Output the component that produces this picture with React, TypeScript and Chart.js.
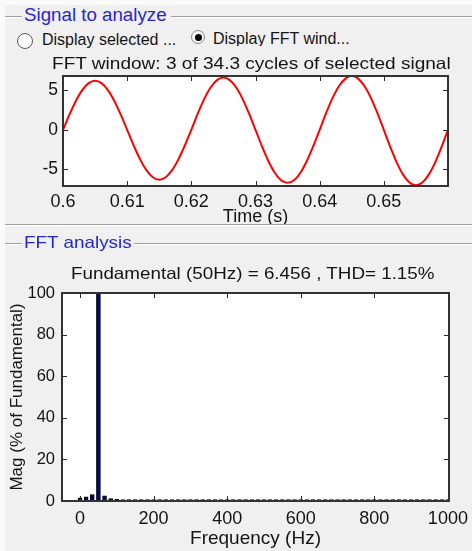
import React, { useEffect, useRef } from "react";
import { Chart, registerables } from "chart.js";

Chart.register(...registerables);

// ---------- data ----------
const sampleTimes = [
  0.600, 0.601, 0.602, 0.603, 0.604, 0.605, 0.606, 0.607, 0.608, 0.609,
  0.610, 0.611, 0.612, 0.613, 0.614, 0.615, 0.616, 0.617, 0.618, 0.619,
  0.620, 0.621, 0.622, 0.623, 0.624, 0.625, 0.626, 0.627, 0.628, 0.629,
  0.630, 0.631, 0.632, 0.633, 0.634, 0.635, 0.636, 0.637, 0.638, 0.639,
  0.640, 0.641, 0.642, 0.643, 0.644, 0.645, 0.646, 0.647, 0.648, 0.649,
  0.650, 0.651, 0.652, 0.653, 0.654, 0.655, 0.656, 0.657, 0.658, 0.659,
  0.660,
];
const signalValues = [
  0, 1.92, 3.65, 5.02, 5.9, 6.2, 5.9, 5.02, 3.65, 1.92,
  0, -1.95, -3.7, -5.1, -5.99, -6.3, -5.99, -5.1, -3.7, -1.95,
  0, 2.04, 3.88, 5.34, 6.28, 6.6, 6.28, 5.34, 3.88, 2.04,
  0, -2.07, -3.94, -5.42, -6.37, -6.7, -6.37, -5.42, -3.94, -2.07,
  0, 2.1, 4.0, 5.5, 6.47, 6.8, 6.47, 5.5, 4.0, 2.1,
  0, -2.16, -4.11, -5.66, -6.66, -7.0, -6.66, -5.66, -4.11, -2.16,
  0,
];
const timeTicks = [0.6, 0.61, 0.62, 0.63, 0.64, 0.65];
const timeTickLabels = ["0.6", "0.61", "0.62", "0.63", "0.64", "0.65"];
const signalTicks = [-5, 0, 5];
const signalTickLabels = ["-5", "0", "5"];

const frequencies = [
  0, 16.67, 33.33, 50, 66.67, 83.33, 100, 116.67, 133.33, 150,
  166.67, 183.33, 200, 216.67, 233.33, 250, 266.67, 283.33, 300, 316.67,
  333.33, 350, 366.67, 383.33, 400, 416.67, 433.33, 450, 466.67, 483.33,
  500, 516.67, 533.33, 550, 566.67, 583.33, 600, 616.67, 633.33, 650,
  666.67, 683.33, 700, 716.67, 733.33, 750, 766.67, 783.33, 800, 816.67,
  833.33, 850, 866.67, 883.33, 900, 916.67, 933.33, 950, 966.67, 983.33,
  1000,
];
const magnitudes = [
  1.5, 2.0, 3.1, 100, 2.5, 1.2, 0.8, 0.7, 0.7, 0.7,
  0.7, 0.7, 0.7, 0.7, 0.7, 0.7, 0.7, 0.7, 0.7, 0.7,
  0.7, 0.7, 0.7, 0.7, 0.7, 0.7, 0.7, 0.7, 0.7, 0.7,
  0.7, 0.7, 0.7, 0.7, 0.7, 0.7, 0.7, 0.7, 0.7, 0.7,
  0.7, 0.7, 0.7, 0.7, 0.7, 0.7, 0.7, 0.7, 0.7, 0.7,
  0.7, 0.7, 0.7, 0.7, 0.7, 0.7, 0.7, 0.7, 0.7, 0.7,
  0.7,
];
const freqTicks = [0, 200, 400, 600, 800, 1000];
const freqTickLabels = ["0", "200", "400", "600", "800", "1000"];
const magTicks = [0, 20, 40, 60, 80, 100];
const magTickLabels = ["0", "20", "40", "60", "80", "100"];

// ---------- styling ----------
const FONT = '"Liberation Sans", Arial, sans-serif';
const TXT = "#141414";

const boxPlugin = {
  id: "matlabBox",
  beforeDraw(chart: any) {
    const { ctx, chartArea: a } = chart;
    ctx.save();
    ctx.fillStyle = "#ffffff";
    ctx.fillRect(a.left, a.top, a.right - a.left, a.bottom - a.top);
    ctx.restore();
  },
  afterDatasetsDraw(chart: any) {
    const { ctx, chartArea: a, scales } = chart;
    const L = 5;
    ctx.save();
    ctx.strokeStyle = "#2a2a2a";
    ctx.lineWidth = 1;
    ctx.beginPath();
    for (const t of scales.x.ticks) {
      const px = Math.round(scales.x.getPixelForValue(t.value)) + 0.5;
      ctx.moveTo(px, a.bottom);
      ctx.lineTo(px, a.bottom - L);
      ctx.moveTo(px, a.top);
      ctx.lineTo(px, a.top + L);
    }
    for (const t of scales.y.ticks) {
      const py = Math.round(scales.y.getPixelForValue(t.value)) + 0.5;
      ctx.moveTo(a.left, py);
      ctx.lineTo(a.left + L, py);
      ctx.moveTo(a.right, py);
      ctx.lineTo(a.right - L, py);
    }
    ctx.stroke();
    ctx.lineWidth = 2;
    ctx.strokeStyle = "#333333";
    ctx.strokeRect(a.left, a.top, a.right - a.left, a.bottom - a.top);
    ctx.restore();
  },
};

const noPadX = (h: number) => (s: any) => {
  s.height = h;
  s.paddingLeft = 0;
  s.paddingRight = 0;
};
const noPadY = (w: number) => (s: any) => {
  s.width = w;
  s.paddingTop = 0;
  s.paddingBottom = 0;
};

function SignalChart() {
  const ref = useRef<HTMLCanvasElement | null>(null);
  useEffect(() => {
    if (!ref.current) return;
    const chart = new Chart(ref.current, {
      type: "line",
      data: {
        datasets: [
          {
            data: sampleTimes.map((t, i) => ({ x: t, y: signalValues[i] })),
            borderColor: "#ff0000",
            borderWidth: 2,
            pointRadius: 0,
            tension: 0.3,
            fill: false,
          },
        ],
      },
      options: {
        animation: false,
        responsive: false,
        maintainAspectRatio: false,
        layout: { padding: { left: 0, right: 24, top: 6, bottom: 0 } },
        plugins: {
          legend: { display: false },
          tooltip: { enabled: false },
          title: { display: false },
        },
        scales: {
          x: {
            type: "linear",
            min: 0.6,
            max: 0.66,
            offset: false,
            afterBuildTicks: (s: any) => {
              s.ticks = timeTicks.map((v) => ({ value: v }));
            },
            afterFit: noPadX(44),
            grid: { display: false, drawTicks: false },
            border: { display: false },
            ticks: {
              padding: 5,
              autoSkip: false,
              maxRotation: 0,
              color: TXT,
              font: { family: FONT, size: 18 },
              callback: (_v: any, i: number) => timeTickLabels[i],
            },
            title: {
              display: true,
              text: "Time (s)",
              color: TXT,
              font: { family: FONT, size: 18 },
              padding: { top: 0, bottom: 2 },
            },
          },
          y: {
            type: "linear",
            min: -7.1,
            max: 6.8,
            afterBuildTicks: (s: any) => {
              s.ticks = signalTicks.map((v) => ({ value: v }));
            },
            afterFit: noPadY(63),
            grid: { display: false, drawTicks: false },
            border: { display: false },
            ticks: {
              padding: 5,
              autoSkip: false,
              color: TXT,
              font: { family: FONT, size: 17.5 },
              callback: (_v: any, i: number) => signalTickLabels[i],
            },
          },
        },
      },
      plugins: [boxPlugin],
    } as any);
    return () => chart.destroy();
  }, []);
  return (
    <canvas
      ref={ref}
      width={472}
      height={160}
      style={{ position: "absolute", left: 0, top: 70, width: 472, height: 160 }}
    />
  );
}

function FftChart() {
  const ref = useRef<HTMLCanvasElement | null>(null);
  useEffect(() => {
    if (!ref.current) return;
    const chart = new Chart(ref.current, {
      type: "bar",
      data: {
        datasets: [
          {
            data: frequencies.map((f, i) => ({ x: f, y: magnitudes[i] })),
            backgroundColor: "#000080",
            borderColor: "#000000",
            borderWidth: 1,
            barThickness: 4,
          },
        ],
      },
      options: {
        animation: false,
        responsive: false,
        maintainAspectRatio: false,
        layout: { padding: { left: 0, right: 23, top: 8, bottom: 0 } },
        plugins: {
          legend: { display: false },
          tooltip: { enabled: false },
          title: { display: false },
        },
        scales: {
          x: {
            type: "linear",
            min: -49,
            max: 1003,
            offset: false,
            afterBuildTicks: (s: any) => {
              s.ticks = freqTicks.map((v) => ({ value: v }));
            },
            afterFit: noPadX(50),
            grid: { display: false, drawTicks: false },
            border: { display: false },
            ticks: {
              padding: 7,
              autoSkip: false,
              maxRotation: 0,
              color: TXT,
              font: { family: FONT, size: 18 },
              callback: (_v: any, i: number) => freqTickLabels[i],
            },
            title: {
              display: true,
              text: "Frequency (Hz)",
              color: TXT,
              font: { family: FONT, size: 19 },
              padding: { top: 0, bottom: 1 },
            },
          },
          y: {
            type: "linear",
            min: 0,
            max: 100,
            afterBuildTicks: (s: any) => {
              s.ticks = magTicks.map((v) => ({ value: v }));
            },
            afterFit: noPadY(62),
            grid: { display: false, drawTicks: false },
            border: { display: false },
            ticks: {
              padding: 7,
              autoSkip: false,
              color: TXT,
              font: { family: FONT, size: 16.5 },
              callback: (_v: any, i: number) => magTickLabels[i],
            },
            title: {
              display: true,
              text: "Mag (% of Fundamental)",
              color: TXT,
              font: { family: FONT, size: 17 },
              padding: { top: 7, bottom: 0 },
            },
          },
        },
      },
      plugins: [boxPlugin],
    } as any);
    return () => chart.destroy();
  }, []);
  return (
    <canvas
      ref={ref}
      width={472}
      height={266}
      style={{ position: "absolute", left: 0, top: 285, width: 472, height: 266 }}
    />
  );
}

function Txt(props: {
  x: number;
  base: number;
  size: number;
  sx?: number;
  color?: string;
  clip?: number;
  children: React.ReactNode;
}) {
  const { x, base, size, sx = 1, color = TXT, clip, children } = props;
  const top = base - size * 0.8465;
  return (
    <div
      style={{
        position: "absolute",
        left: x,
        top,
        fontFamily: FONT,
        fontSize: size,
        lineHeight: `${size}px`,
        whiteSpace: "nowrap",
        color,
        transform: `scaleX(${sx})`,
        transformOrigin: "0 0",
        overflow: clip !== undefined ? "hidden" : "visible",
        height: clip !== undefined ? base - top + clip : undefined,
      }}
    >
      {children}
    </div>
  );
}

function HLine({ x1, x2, y }: { x1: number; x2: number; y: number }) {
  return (
    <div
      style={{
        position: "absolute",
        left: x1,
        top: y,
        width: x2 - x1,
        height: 1,
        background: "#a0a0a0",
        boxShadow: "0 1px 0 #ffffff",
      }}
    />
  );
}

export default function App() {
  useEffect(() => {
    document.body.style.margin = "0";
    document.body.style.background = "#fafafa";
  }, []);
  const BLUE = "#2626d2";
  return (
    <div style={{ position: "relative", width: 472, height: 551, overflow: "hidden", background: "#fafafa" }}>
      <div style={{ position: "absolute", left: 5, top: 5, right: 0, bottom: 0, background: "#f0f0f0" }} />

      <SignalChart />
      <FftChart />

      {/* group frames */}
      <HLine x1={5} x2={22} y={16} />
      <HLine x1={171} x2={472} y={16} />
      <HLine x1={5} x2={472} y={224} />
      <HLine x1={5} x2={22} y={243} />
      <HLine x1={134} x2={472} y={243} />

      <Txt x={24} base={21.7} size={18} sx={1.04} color={BLUE}>Signal to analyze</Txt>
      <Txt x={24} base={248.3} size={16.5} sx={1.144} color={BLUE}>FFT analysis</Txt>

      {/* radio buttons */}
      <div
        style={{
          position: "absolute",
          left: 17,
          top: 33,
          width: 16,
          height: 16,
          borderRadius: "50%",
          border: "1px solid #5a5a5a",
          background: "#ffffff",
          boxSizing: "border-box",
        }}
      />
      <Txt x={42} base={46} size={16}>Display selected ...</Txt>
      <div
        style={{
          position: "absolute",
          left: 191,
          top: 30,
          width: 14,
          height: 14,
          borderRadius: "50%",
          border: "1px solid #8a8a8a",
          background: "#f4f4f4",
          boxSizing: "border-box",
        }}
      />
      <div
        style={{
          position: "absolute",
          left: 194.5,
          top: 33.5,
          width: 7,
          height: 7,
          borderRadius: "50%",
          background: "#000000",
        }}
      />
      <Txt x={213} base={45} size={16} clip={1.5}>Display FFT wind...</Txt>

      {/* axes titles */}
      <Txt x={52} base={69} size={16.5} sx={1.154}>FFT window: 3 of 34.3 cycles of selected signal</Txt>
      <Txt x={71} base={279.3} size={16.5} sx={1.14}>Fundamental (50Hz) = 6.456 , THD= 1.15%</Txt>
    </div>
  );
}
